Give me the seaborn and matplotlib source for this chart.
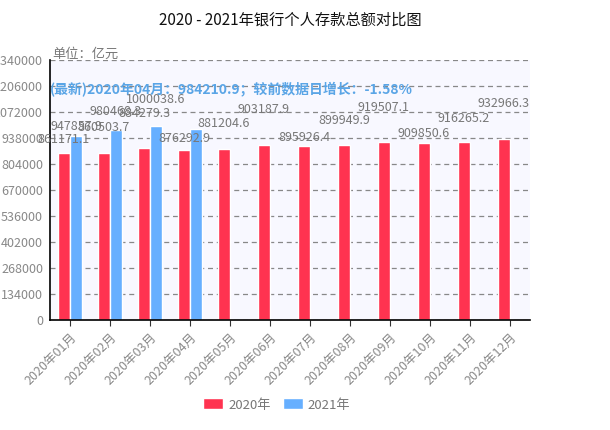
import pandas as pd
import matplotlib
matplotlib.use('Agg')
import matplotlib.pyplot as plt
import seaborn as sns

# data
months = ['2020年01月', '2020年02月', '2020年03月', '2020年04月', '2020年05月', '2020年06月',
          '2020年07月', '2020年08月', '2020年09月', '2020年10月', '2020年11月', '2020年12月']
years = ['2020年', '2021年']
deposit_2020 = [861171.1, 860503.7, 884279.3, 876292.9, 881204.6, 903187.9,
                895926.4, 899949.9, 919507.1, 909850.6, 916265.2, 932966.3]
deposit_2021 = [947857.9, 980468.3, 1000038.6, 984210.9]
yticks = [0, 134000, 268000, 402000, 536000, 670000, 804000, 938000, 1072000, 1206000, 1340000]
note = '(最新)2020年04月：984210.9；较前数据日增长：-1.58%'

# label lift above each bar (px), staggered like the original to dodge collisions
lift_2020 = [13, 26, 35, 11, 26, 35, 9, 25, 34, 10, 24, 35]
lift_2021 = [10, 18, 26, None]  # last one is hidden in the original

rows = []
for m, v in zip(months, deposit_2020):
    rows.append({'month': m, 'year': years[0], 'value': v})
for m, v in zip(months, deposit_2021):
    rows.append({'month': m, 'year': years[1], 'value': v})
df = pd.DataFrame(rows)

sns.set_style('white')
plt.rcParams['font.family'] = ['Noto Sans CJK SC', 'DejaVu Sans']

gray = '#777777'
fig = plt.figure(figsize=(6.1, 4.3), dpi=100)
ax = fig.add_axes([50 / 610, 110 / 430, 480 / 610, 260 / 430])
ax.set_facecolor('#F8F8FF')

sns.barplot(data=df, x='month', y='value', hue='year', order=months, hue_order=years,
            palette=['#FF3350', '#66AFFF'], width=0.6, saturation=1, ax=ax)

# note drawn first so the value labels sit on top of it
ax.text(0.0, 0.885, note, transform=ax.transAxes, color='#5AA5E6', fontsize=10,
        fontweight='bold', va='center', ha='left')

for c, lifts in zip(ax.containers, [lift_2020, lift_2021]):
    for b, lift in zip(c, lifts):
        if lift is None:
            continue
        ax.annotate(f'{b.get_height():.1f}', (b.get_x() + b.get_width() / 2, b.get_height()),
                    xytext=(0, lift), textcoords='offset pixels', ha='center', va='center',
                    color=gray, fontsize=9)

ax.set_ylim(0, 1340000)
ax.set_xlim(-0.5, 11.5)
ax.set_yticks(yticks)
ax.set_yticklabels([str(t) for t in yticks])
ax.yaxis.grid(True, linestyle=(0, (4, 3)), color='#888888', linewidth=0.9)
ax.set_axisbelow(True)
ax.tick_params(axis='y', length=0, colors='#888888', labelsize=9, pad=5)
ax.tick_params(axis='x', length=4, color='#333333', labelcolor='#888888', labelsize=9, bottom=True)
plt.setp(ax.get_xticklabels(), rotation=45, ha='right', rotation_mode='anchor')
ax.set_xlabel('')
ax.set_ylabel('')
for s in ['top', 'right']:
    ax.spines[s].set_visible(False)
for s in ['left', 'bottom']:
    ax.spines[s].set_color('black')
    ax.spines[s].set_linewidth(1.2)

fig.text(290 / 610, 1 - 20 / 430, '2020 - 2021年银行个人存款总额对比图', ha='center', va='center',
         fontsize=11, color='#111111')
fig.text(52 / 610, 1 - 54 / 430, '单位：亿元', ha='left', va='center', fontsize=9.5, color=gray)

ax.legend(loc='center', bbox_to_anchor=((277 - 50) / 480, -85 / 260), ncol=2, frameon=False,
          fontsize=9.5, labelcolor=gray, handlelength=1.5, handleheight=0.9,
          columnspacing=0.9, handletextpad=0.4, borderaxespad=0)

fig.savefig('out.png', dpi=100)
